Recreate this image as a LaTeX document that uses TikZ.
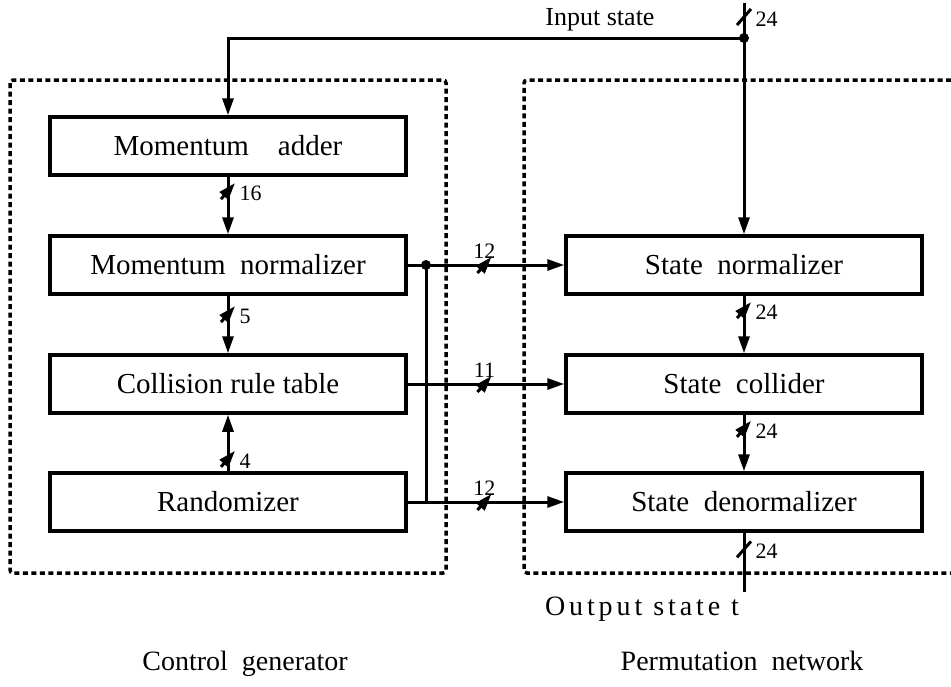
\documentclass[tikz,border=0pt]{standalone}
\usepackage{fontspec}
\setmainfont{Liberation Serif}
\usetikzlibrary{arrows.meta}

\tikzset{every picture/.style={line width=3pt}}
\tikzset{
	blk/.style={draw,line width=3.5pt,minimum width=356pt,minimum height=58pt,inner sep=0pt,font=\fontsize{29}{30}\selectfont},
	num/.style={inner sep=1pt,font=\fontsize{22}{24}\selectfont},
	lbltext/.style={inner sep=0pt,anchor=base,font=\fontsize{28}{30}\selectfont},
	frame/.style={line width=3.5pt,dash pattern=on 5pt off 3.5pt,rounded corners=3pt},
	pics/vbus/.style={code={\draw (-7,-8)--(7,8); \node[num,anchor=west] at (9,-2) {#1};}},
	pics/hbus/.style={code={\draw (-7,-8)--(7,8); \node[num,anchor=south] at (0,4) {#1};}},
}

\begin{document}
\begin{tikzpicture}[x=1pt,y=1pt,yscale=-1,xscale=1,>={Triangle[length=17pt,width=11pt]}]
				\useasboundingbox (0,0) rectangle (951,686);
				\draw[frame] (10,80) rectangle (446,573); %制御側の枠
				\draw[frame] (951,80) -| (524,573) -- (951,573); %置換側の枠
				% 左の列
				\node[blk] (madd) at (228,146) {Momentum\quad adder};
				\node[blk] (mnorm) at (228,265) {Momentum\ \ normalizer};
				\node[blk] (crule) at (228,384) {Collision\ rule\ table};
				\node[blk] (rnd) at (228,502) {Randomizer};
				% 右の列
				\node[blk] (snorm) at (744,265) {State\ \ normalizer};
				\node[blk] (scoll) at (744,384) {State\ \ collider};
				\node[blk] (sden) at (744,502) {State\ \ denormalizer};
				% 入力
				\coordinate (in) at (744,3);
				\coordinate (jn) at (744,38);
				\node[num,font=\fontsize{26}{28}\selectfont] (inlbl) at (600,20) {Input state};
				\draw (in) -- pic[pos=.4]{vbus=24} (jn);
				\draw[->] (jn) -| (madd.north);
				\draw[->] (jn) -- (snorm.north);
				\fill (jn) circle (5);
				\draw[->] (madd.south) -- pic[pos=.25]{vbus=16} (mnorm.north);
				\draw[->] (mnorm.south) -- pic[pos=.32]{vbus=5} (crule.north);
				\draw[->] (rnd.north) -- pic[pos=.22]{vbus=4} (crule.south);
				\draw[->] (snorm.south) -- pic[pos=.25]{vbus=24} (scoll.north);
				\draw[->] (scoll.south) -- pic[pos=.25]{vbus=24} (sden.north);
				% 横の接続
				\coordinate (tap) at (426,265);
				\draw[->] (mnorm.east) -- pic[pos=.49]{hbus=12} (snorm.west);
				\draw[->] (crule.east) -- pic[pos=.49]{hbus=11} (scoll.west);
				\draw[->] (rnd.east) -- pic[pos=.49]{hbus=12} (sden.west);
				\draw (tap) -- (tap |- rnd.east);
				\fill (tap) circle (5);
				% 出力
				\coordinate (out) at (744,592);
				\draw (sden.south) -- pic[pos=.28]{vbus=24} (out);
				\node[lbltext,font=\fontsize{28}{30}\selectfont\addfontfeature{LetterSpace=14}] (outlbl) at (642,615) {Output state t};
				\node[lbltext] (cgen) at (245,670) {Control\ \ generator};
				\node[lbltext] (pnet) at (742,670) {Permutation\ \ network};
			\end{tikzpicture}
\end{document}
